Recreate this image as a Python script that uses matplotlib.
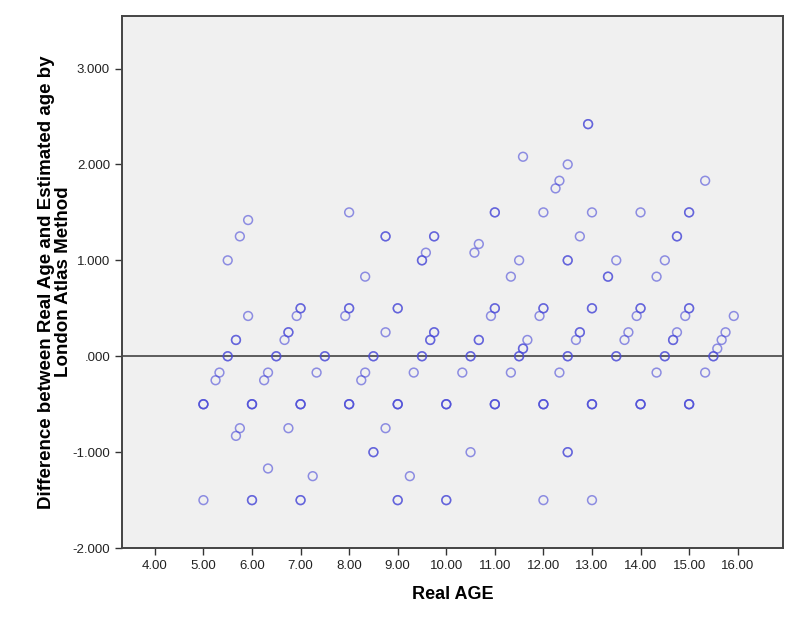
import matplotlib.pyplot as plt

plt.rcParams['font.family'] = ['Liberation Sans', 'DejaVu Sans']

# Real age (years) and difference real - estimated (years)
age = [5.0, 5.0, 5.25, 5.33, 5.5, 5.5, 5.67, 5.67, 5.75, 5.75, 5.92, 5.92,
       6.0, 6.0, 6.25, 6.33, 6.33, 6.5, 6.67, 6.75, 6.75, 6.92, 7.0, 7.0, 7.0,
       7.25, 7.33, 7.5, 7.92, 8.0, 8.0, 8.0, 8.25, 8.33, 8.33, 8.5, 8.5,
       8.75, 8.75, 8.75, 9.0, 9.0, 9.0, 9.25, 9.33, 9.5, 9.5, 9.58, 9.67,
       9.75, 9.75, 10.0, 10.0, 10.33, 10.5, 10.5, 10.58, 10.67, 10.67, 10.92,
       11.0, 11.0, 11.0, 11.33, 11.33, 11.5, 11.5, 11.58, 11.58, 11.67, 11.92,
       12.0, 12.0, 12.0, 12.0, 12.25, 12.33, 12.33, 12.5, 12.5, 12.5, 12.5,
       12.67, 12.75, 12.75, 12.92, 13.0, 13.0, 13.0, 13.0, 13.33, 13.5, 13.5,
       13.67, 13.75, 13.92, 14.0, 14.0, 14.0, 14.33, 14.33, 14.5, 14.5, 14.67,
       14.75, 14.75, 14.92, 15.0, 15.0, 15.0, 15.33, 15.33, 15.5, 15.58,
       15.67, 15.75, 15.92]
diff = [-1.5, -0.5, -0.25, -0.17, 1.0, 0.0, 0.17, -0.83, -0.75, 1.25, 1.42, 0.42,
        -0.5, -1.5, -0.25, -0.17, -1.17, 0.0, 0.17, 0.25, -0.75, 0.42, 0.5, -0.5, -1.5,
        -1.25, -0.17, 0.0, 0.42, 0.5, -0.5, 1.5, -0.25, -0.17, 0.83, 0.0, -1.0,
        1.25, 0.25, -0.75, -0.5, 0.5, -1.5, -1.25, -0.17, 0.0, 1.0, 1.08, 0.17,
        1.25, 0.25, -0.5, -1.5, -0.17, 0.0, -1.0, 1.08, 1.17, 0.17, 0.42,
        0.5, 1.5, -0.5, -0.17, 0.83, 0.0, 1.0, 0.08, 2.08, 0.17, 0.42,
        0.5, 1.5, -0.5, -1.5, 1.75, 1.83, -0.17, 0.0, 1.0, 2.0, -1.0,
        0.17, 1.25, 0.25, 2.42, 0.5, 1.5, -0.5, -1.5, 0.83, 0.0, 1.0,
        0.17, 0.25, 0.42, 0.5, 1.5, -0.5, -0.17, 0.83, 0.0, 1.0, 0.17,
        1.25, 0.25, 0.42, 0.5, 1.5, -0.5, 1.83, -0.17, 0.0, 0.08,
        0.17, 0.25, 0.42]
# how many cases overlap at each point (darker rings)
count = [1, 3, 1, 1, 1, 2, 2, 1, 1, 1, 1, 1,
         3, 2, 1, 1, 1, 2, 1, 2, 1, 1, 2, 3, 2,
         1, 1, 2, 1, 2, 3, 1, 1, 1, 1, 2, 2,
         2, 1, 1, 3, 2, 2, 1, 1, 2, 2, 1, 2,
         2, 2, 3, 2, 1, 2, 1, 1, 1, 2, 1,
         2, 2, 3, 1, 1, 2, 1, 2, 1, 1, 1,
         2, 1, 3, 1, 1, 1, 1, 2, 2, 1, 2,
         1, 1, 2, 2, 2, 1, 3, 1, 2, 2, 1,
         1, 1, 1, 2, 1, 3, 1, 1, 2, 1, 2,
         2, 1, 1, 2, 2, 3, 1, 1, 2, 1,
         1, 1, 1]

xs, ys = [], []
for a, d, n in zip(age, diff, count):
    xs += [a] * n
    ys += [d] * n

fig = plt.figure(figsize=(7.86, 6.3), dpi=100)
ax = fig.add_axes([0.155, 0.13, 0.841, 0.845])
ax.set_facecolor('#f0f0f0')

ax.scatter(xs, ys, s=40, facecolors='none', edgecolors='#4a4ad8',
           linewidths=1.1, alpha=0.6, zorder=3)
ax.axhline(0, color='#444444', linewidth=1.2, zorder=2)

ax.set_xlim(3.32, 16.93)
ax.set_ylim(-2.0, 3.55)
ax.set_xticks([4, 5, 6, 7, 8, 9, 10, 11, 12, 13, 14, 15, 16])
ax.set_xticklabels(['%.2f' % v for v in range(4, 17)])
ax.set_yticks([-2, -1, 0, 1, 2, 3])
ax.set_yticklabels(['-2.000', '-1.000', '.000', '1.000', '2.000', '3.000'])
ax.tick_params(direction='out', length=5, width=1, color='#333333',
               labelsize=9.5, labelcolor='#222222')

for s in ax.spines.values():
    s.set_color('#444444')
    s.set_linewidth(1.4)

ax.set_xlabel('Real AGE', fontsize=13, fontweight='bold', labelpad=10)
ax.set_ylabel('Difference between Real Age and Estimated age by\nLondon Atlas Method',
              fontsize=13.5, fontweight='bold', linespacing=1.0)
ax.yaxis.set_label_coords(-0.076, 0.5)

fig.savefig('out.png', dpi=100)
